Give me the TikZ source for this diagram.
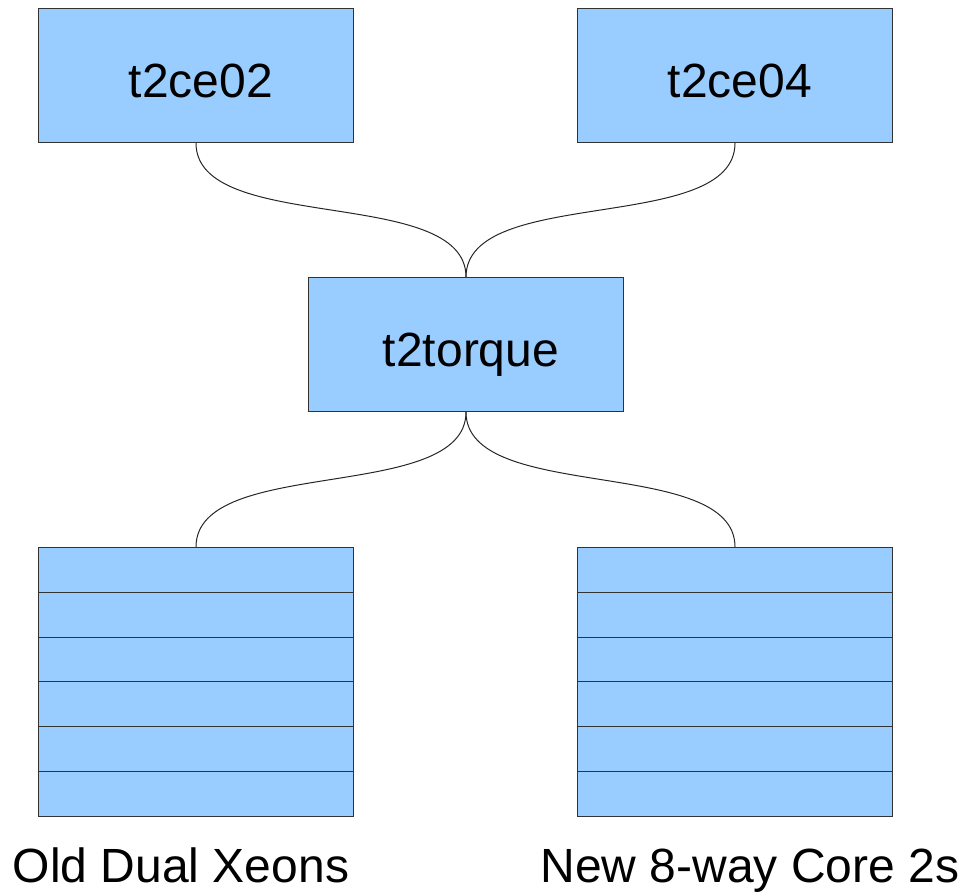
\documentclass[tikz,border=0pt]{standalone}
\usepackage{fontspec}
\setmainfont{Liberation Sans}
\begin{document}
\begin{tikzpicture}[x=1pt,y=-1pt,
  box/.style={draw=black!80, line width=1pt, fill=boxblue, minimum width=315pt, minimum height=134pt, inner sep=0pt, anchor=north west},
  rackrow/.style={draw=black!80, line width=1pt, fill=boxblue, minimum width=315pt, minimum height=44.8pt, inner sep=0pt, anchor=north west},
  lbl/.style={font=\fontsize{48}{57}\selectfont, inner sep=0pt},
  conn/.style={draw=black!85, line width=1pt}]
\definecolor{boxblue}{HTML}{99CCFF}
\useasboundingbox (0,0) rectangle (965,892);
\node[box] (ce02) at (38,8) {};
\node[box] (ce04) at (577,8) {};
\node[box] (torque) at (308,277) {};
\node[lbl, anchor=base] (ce02t) at (201,97) {t2ce02};
\node[lbl, anchor=base] (ce04t) at (740,97) {t2ce04};
\node[lbl, anchor=base] (torquet) at (471,366) {t2torque};
\foreach \i in {0,...,5} {
  \node[rackrow] (L\i) at (38,547+\i*44.8) {};
  \node[rackrow] (R\i) at (577,547+\i*44.8) {};
}
\node[lbl, anchor=base] (oldlbl) at (181,882) {Old Dual Xeons};
\node[lbl, anchor=base] (newlbl) at (750,882) {New 8-way Core 2s};
\draw[conn] (ce02.south) .. controls +(0,92) and +(0,-92) .. (torque.north);
\draw[conn] (ce04.south) .. controls +(0,92) and +(0,-92) .. (torque.north);
\draw[conn] (torque.south) .. controls +(0,92) and +(0,-92) .. (L0.north);
\draw[conn] (torque.south) .. controls +(0,92) and +(0,-92) .. (R0.north);
\end{tikzpicture}
\end{document}
